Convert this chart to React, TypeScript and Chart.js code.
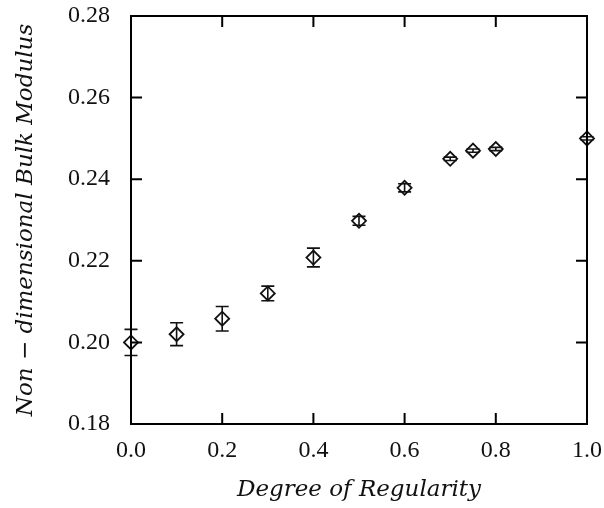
import React, { useEffect, useRef } from "react";
import { Chart, registerables } from "chart.js";

Chart.register(...registerables);

const xValues = [0.0, 0.1, 0.2, 0.3, 0.4, 0.5, 0.6, 0.7, 0.75, 0.8, 1.0];
const yValues = [0.2, 0.202, 0.2058, 0.212, 0.2208, 0.2298, 0.2379, 0.245, 0.247, 0.2474, 0.25];
const yErrors = [0.0032, 0.0028, 0.003, 0.0018, 0.0023, 0.0011, 0.001, 0.0004, 0.0004, 0.0004, 0.0004];

const xTicks = [0, 0.2, 0.4, 0.6, 0.8, 1.0];
const yTicks = [0.18, 0.2, 0.22, 0.24, 0.26, 0.28];

const xTitle = "Degree of Regularity";
const yTitle = "Non \u2212 dimensional Bulk Modulus";

const FONT = "'Liberation Serif', 'DejaVu Serif', serif";
const TFONT = "'DejaVu Serif', 'Liberation Serif', serif";

const framePlugin = {
  id: "frameAndBars",
  afterDatasetsDraw(chart: any) {
    const { ctx, chartArea, scales } = chart;
    const xs = scales.x;
    const ys = scales.y;
    ctx.save();
    ctx.strokeStyle = "#111";
    ctx.lineWidth = 1.6;
    const cap = 6.5;
    for (let i = 0; i < xValues.length; i++) {
      const px = xs.getPixelForValue(xValues[i]);
      const top = ys.getPixelForValue(yValues[i] + yErrors[i]);
      const bot = ys.getPixelForValue(yValues[i] - yErrors[i]);
      ctx.beginPath();
      ctx.moveTo(px, top);
      ctx.lineTo(px, bot);
      ctx.moveTo(px - cap, top);
      ctx.lineTo(px + cap, top);
      ctx.moveTo(px - cap, bot);
      ctx.lineTo(px + cap, bot);
      ctx.stroke();
    }
    ctx.lineWidth = 2;
    ctx.strokeStyle = "#000";
    ctx.strokeRect(chartArea.left, chartArea.top, chartArea.right - chartArea.left, chartArea.bottom - chartArea.top);
    const tl = 11;
    ctx.beginPath();
    for (const t of xTicks) {
      const px = xs.getPixelForValue(t);
      ctx.moveTo(px, chartArea.bottom);
      ctx.lineTo(px, chartArea.bottom - tl);
      ctx.moveTo(px, chartArea.top);
      ctx.lineTo(px, chartArea.top + tl);
    }
    for (const t of yTicks) {
      const py = ys.getPixelForValue(t);
      ctx.moveTo(chartArea.left, py);
      ctx.lineTo(chartArea.left + tl, py);
      ctx.moveTo(chartArea.right, py);
      ctx.lineTo(chartArea.right - tl, py);
    }
    ctx.stroke();
    ctx.restore();
  },
};

export default function App() {
  const ref = useRef<HTMLCanvasElement>(null);
  useEffect(() => {
    if (!ref.current) return;
    const chart = new Chart(ref.current, {
      type: "scatter",
      data: {
        datasets: [
          {
            data: xValues.map((x, i) => ({ x, y: yValues[i] })),
            pointStyle: "rectRot",
            pointRadius: 7,
            pointBorderWidth: 1.8,
            pointBorderColor: "#111",
            pointBackgroundColor: "rgba(255,255,255,0.9)",
            showLine: false,
            clip: false,
          },
        ],
      },
      options: {
        responsive: false,
        animation: false,
        layout: { padding: { top: 16, right: 17, left: 0, bottom: 0 } },
        plugins: { legend: { display: false }, tooltip: { enabled: false } },
        scales: {
          x: {
            type: "linear",
            min: 0,
            max: 1,
            afterBuildTicks: (s: any) => {
              s.ticks = xTicks.map((v) => ({ value: v }));
            },
            afterFit: (s: any) => {
              s.height = 84;
              s.paddingLeft = 0;
              s.paddingRight = 0;
            },
            grid: { display: false },
            border: { display: false },
            ticks: {
              color: "#111",
              padding: 4,
              font: { family: FONT, size: 24 },
              callback: (v: any) => Number(v).toFixed(1),
              maxRotation: 0,
            },
            title: {
              display: true,
              text: xTitle,
              color: "#111",
              font: { family: TFONT, size: 23, style: "italic" },
              padding: { top: 6 },
            },
          },
          y: {
            type: "linear",
            min: 0.18,
            max: 0.28,
            afterBuildTicks: (s: any) => {
              s.ticks = yTicks.map((v) => ({ value: v }));
            },
            afterFit: (s: any) => {
              s.width = 131;
              s.paddingTop = 0;
              s.paddingBottom = 0;
            },
            grid: { display: false },
            border: { display: false },
            ticks: {
              color: "#111",
              padding: 13,
              font: { family: FONT, size: 24 },
              callback: (v: any) => Number(v).toFixed(2),
            },
            title: {
              display: true,
              text: yTitle,
              color: "#111",
              font: { family: TFONT, size: 23, style: "italic" },
              padding: { top: 12, bottom: 10 },
            },
          },
        },
      },
      plugins: [framePlugin],
    } as any);
    return () => chart.destroy();
  }, []);
  return (
    <div style={{ position: "absolute", left: 0, top: 0, width: 604, height: 508, background: "#fff" }}>
      <canvas ref={ref} width={604} height={508} />
    </div>
  );
}
